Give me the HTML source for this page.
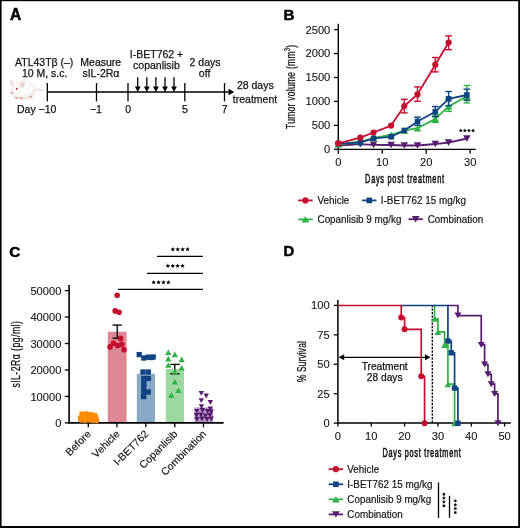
<!DOCTYPE html>
<html><head><meta charset="utf-8"><style>
html,body{margin:0;padding:0;background:#fff;width:520px;height:528px;overflow:hidden}
svg{display:block;will-change:transform}
</style></head><body>
<svg width="520" height="528" viewBox="0 0 520 528" font-family='"Liberation Sans", sans-serif'>
<rect width="520" height="528" fill="#fff"/>
<text x="9.9" y="19.5" font-size="15.6" text-anchor="start" font-weight="bold" fill="#000" stroke="#000" stroke-width="0.5">A</text>
<text x="283.6" y="19.6" font-size="15.2" text-anchor="start" font-weight="bold" fill="#000" stroke="#000" stroke-width="0.5">B</text>
<text x="9.3" y="256.7" font-size="15.4" text-anchor="start" font-weight="bold" fill="#000" stroke="#000" stroke-width="0.5">C</text>
<text x="283.6" y="256.1" font-size="14.8" text-anchor="start" font-weight="bold" fill="#000" stroke="#000" stroke-width="0.5">D</text>
<g>
<defs><radialGradient id="mb" cx="0.45" cy="0.35" r="0.7"><stop offset="0" stop-color="#ffffff"/><stop offset="0.7" stop-color="#f8f6f2"/><stop offset="1" stop-color="#e6e3dc"/></radialGradient></defs>
<ellipse cx="25" cy="98.6" rx="10" ry="1.2" fill="#edf0ea"/>
<path d="M33.5 91.2 Q38.5 89.3 44 90" stroke="#f0c2c8" stroke-width="1.1" fill="none" stroke-linecap="round"/>
<path d="M10.6 93 C10.8 90 12.5 87 14.5 85.5 C16 83.6 18.5 82.8 21 82.6 C25 81.4 30 82.2 33 86 C35.4 89 35.2 94 32.2 96.4 C27.5 98.6 19.5 98.8 15.5 97.5 C13 96.6 11.2 95 10.6 93 Z" fill="url(#mb)" stroke="#e2ddd6" stroke-width="0.5"/>
<ellipse cx="11.8" cy="83.3" rx="1.7" ry="3.1" fill="#f7e6e6" stroke="#ecd6d6" stroke-width="0.4" transform="rotate(-12 11.8 83.3)"/>
<ellipse cx="22.2" cy="84.4" rx="2.6" ry="3.5" fill="#f9eeee" stroke="#e8d0d0" stroke-width="0.4" transform="rotate(12 22.2 84.4)"/>
<ellipse cx="22.4" cy="84.9" rx="1.5" ry="2.4" fill="#f0c6c8" transform="rotate(12 22.4 84.9)"/>
<circle cx="16.8" cy="88.8" r="0.95" fill="#b8283a"/>
<circle cx="11.9" cy="92.7" r="1.3" fill="#f0a6b0"/>
<ellipse cx="16.4" cy="98" rx="1.5" ry="1" fill="#e4a08a"/>
<ellipse cx="21.2" cy="98.3" rx="1.5" ry="1" fill="#e4a08a"/>
<ellipse cx="30.8" cy="96.7" rx="1.5" ry="1" fill="#e4a08a"/>
</g>
<text x="44.2" y="65.8" font-size="10.5" text-anchor="middle" font-weight="normal" fill="#161415"  stroke="#161415" stroke-width="0.25">ATL43Tβ (–)</text>
<text x="44.7" y="77" font-size="10.5" text-anchor="middle" font-weight="normal" fill="#161415"  stroke="#161415" stroke-width="0.25">10 M, s.c.</text>
<text x="100.8" y="65.6" font-size="10.5" text-anchor="middle" font-weight="normal" fill="#161415"  stroke="#161415" stroke-width="0.25">Measure</text>
<text x="100.9" y="77.1" font-size="10.5" text-anchor="middle" font-weight="normal" fill="#161415"  stroke="#161415" stroke-width="0.25">sIL-2Rα</text>
<text x="156.5" y="58.3" font-size="10.5" text-anchor="middle" font-weight="normal" fill="#161415"  stroke="#161415" stroke-width="0.25">I-BET762 +</text>
<text x="156.4" y="68.8" font-size="10.5" text-anchor="middle" font-weight="normal" fill="#161415"  stroke="#161415" stroke-width="0.25">copanlisib</text>
<text x="205" y="65.6" font-size="10.5" text-anchor="middle" font-weight="normal" fill="#161415"  stroke="#161415" stroke-width="0.25">2 days</text>
<text x="204.6" y="76.5" font-size="10.5" text-anchor="middle" font-weight="normal" fill="#161415"  stroke="#161415" stroke-width="0.25">off</text>
<text x="255.3" y="88.5" font-size="10.5" text-anchor="middle" font-weight="normal" fill="#161415"  stroke="#161415" stroke-width="0.25">28 days</text>
<text x="255.0" y="102.7" font-size="10.5" text-anchor="middle" font-weight="normal" fill="#161415"  stroke="#161415" stroke-width="0.25">treatment</text>
<text x="17" y="113" font-size="10.5" text-anchor="start" font-weight="normal" fill="#161415"  stroke="#161415" stroke-width="0.25">Day &#8722;10</text>
<text x="95.9" y="113" font-size="10.5" text-anchor="middle" font-weight="normal" fill="#161415"  stroke="#161415" stroke-width="0.25">&#8722;1</text>
<text x="128.1" y="113" font-size="10.5" text-anchor="middle" font-weight="normal" fill="#161415"  stroke="#161415" stroke-width="0.25">0</text>
<text x="185.0" y="113" font-size="10.5" text-anchor="middle" font-weight="normal" fill="#161415"  stroke="#161415" stroke-width="0.25">5</text>
<text x="224.7" y="113" font-size="10.5" text-anchor="middle" font-weight="normal" fill="#161415"  stroke="#161415" stroke-width="0.25">7</text>
<line x1="47.3" y1="92" x2="229" y2="92" stroke="#000" stroke-width="1.3" />
<polygon points="228.5,88.8 234.3,92 228.5,95.2" fill="#000"/>
<line x1="47.3" y1="83" x2="47.3" y2="101.3" stroke="#000" stroke-width="1.3" />
<line x1="96.5" y1="83" x2="96.5" y2="101.3" stroke="#000" stroke-width="1.3" />
<line x1="128" y1="83" x2="128" y2="101.3" stroke="#000" stroke-width="1.3" />
<line x1="184.8" y1="83" x2="184.8" y2="101.3" stroke="#000" stroke-width="1.3" />
<line x1="224.5" y1="83" x2="224.5" y2="101.3" stroke="#000" stroke-width="1.3" />
<line x1="137.7" y1="77.2" x2="137.7" y2="87.5" stroke="#000" stroke-width="1.3" />
<polygon points="134.79999999999998,86.5 140.6,86.5 137.7,92" fill="#000"/>
<line x1="146.8" y1="77.2" x2="146.8" y2="87.5" stroke="#000" stroke-width="1.3" />
<polygon points="143.9,86.5 149.70000000000002,86.5 146.8,92" fill="#000"/>
<line x1="155.9" y1="77.2" x2="155.9" y2="87.5" stroke="#000" stroke-width="1.3" />
<polygon points="153.0,86.5 158.8,86.5 155.9,92" fill="#000"/>
<line x1="165" y1="77.2" x2="165" y2="87.5" stroke="#000" stroke-width="1.3" />
<polygon points="162.1,86.5 167.9,86.5 165,92" fill="#000"/>
<line x1="174" y1="77.2" x2="174" y2="87.5" stroke="#000" stroke-width="1.3" />
<polygon points="171.1,86.5 176.9,86.5 174,92" fill="#000"/>
<line x1="338.3" y1="23.8" x2="338.3" y2="150.04999999999998" stroke="#000" stroke-width="1.4" />
<line x1="337.6" y1="149.35" x2="475.8" y2="149.35" stroke="#000" stroke-width="1.4" />
<line x1="334.1" y1="149.35" x2="338.3" y2="149.35" stroke="#000" stroke-width="1.3" />
<text x="330.3" y="153.25" font-size="10.3" text-anchor="end" fill="#161415" stroke="#161415" stroke-width="0.1" textLength="6.20" lengthAdjust="spacingAndGlyphs">0</text>
<line x1="334.1" y1="125.39999999999999" x2="338.3" y2="125.39999999999999" stroke="#000" stroke-width="1.3" />
<text x="330.3" y="129.29999999999998" font-size="10.3" text-anchor="end" fill="#161415" stroke="#161415" stroke-width="0.1" textLength="18.60" lengthAdjust="spacingAndGlyphs">500</text>
<line x1="334.1" y1="101.44999999999999" x2="338.3" y2="101.44999999999999" stroke="#000" stroke-width="1.3" />
<text x="330.3" y="105.35" font-size="10.3" text-anchor="end" fill="#161415" stroke="#161415" stroke-width="0.1" textLength="24.80" lengthAdjust="spacingAndGlyphs">1000</text>
<line x1="334.1" y1="77.5" x2="338.3" y2="77.5" stroke="#000" stroke-width="1.3" />
<text x="330.3" y="81.4" font-size="10.3" text-anchor="end" fill="#161415" stroke="#161415" stroke-width="0.1" textLength="24.80" lengthAdjust="spacingAndGlyphs">1500</text>
<line x1="334.1" y1="53.55" x2="338.3" y2="53.55" stroke="#000" stroke-width="1.3" />
<text x="330.3" y="57.449999999999996" font-size="10.3" text-anchor="end" fill="#161415" stroke="#161415" stroke-width="0.1" textLength="24.80" lengthAdjust="spacingAndGlyphs">2000</text>
<line x1="334.1" y1="29.599999999999994" x2="338.3" y2="29.599999999999994" stroke="#000" stroke-width="1.3" />
<text x="330.3" y="33.49999999999999" font-size="10.3" text-anchor="end" fill="#161415" stroke="#161415" stroke-width="0.1" textLength="24.80" lengthAdjust="spacingAndGlyphs">2500</text>
<line x1="338.3" y1="149.35" x2="338.3" y2="153.7" stroke="#000" stroke-width="1.3" />
<text x="338.3" y="165.6" font-size="10.3" text-anchor="middle" fill="#161415" stroke="#161415" stroke-width="0.1" textLength="6.20" lengthAdjust="spacingAndGlyphs">0</text>
<line x1="382.25" y1="149.35" x2="382.25" y2="153.7" stroke="#000" stroke-width="1.3" />
<text x="382.25" y="165.6" font-size="10.3" text-anchor="middle" fill="#161415" stroke="#161415" stroke-width="0.1" textLength="12.40" lengthAdjust="spacingAndGlyphs">10</text>
<line x1="426.2" y1="149.35" x2="426.2" y2="153.7" stroke="#000" stroke-width="1.3" />
<text x="426.2" y="165.6" font-size="10.3" text-anchor="middle" fill="#161415" stroke="#161415" stroke-width="0.1" textLength="12.40" lengthAdjust="spacingAndGlyphs">20</text>
<line x1="470.15" y1="149.35" x2="470.15" y2="153.7" stroke="#000" stroke-width="1.3" />
<text x="470.15" y="165.6" font-size="10.3" text-anchor="middle" fill="#161415" stroke="#161415" stroke-width="0.1" textLength="12.40" lengthAdjust="spacingAndGlyphs">30</text>
<text transform="translate(365.1,183.2) scale(0.58,1)" font-size="12.6" letter-spacing="1.306" fill="#161415" stroke="#161415" stroke-width="0.6">Days post treatment</text>
<text transform="translate(294.9,129) rotate(-90) scale(0.68,1)" font-size="12.6" letter-spacing="0.363" fill="#161415" stroke="#161415" stroke-width="0.25">Tumor volume (mm<tspan font-size="8.5" dy="-4.5">3</tspan><tspan dy="4.5">)</tspan></text>
<polyline points="338.3,145.5 360.3,144.2 373.5,144.9 391.1,145 404.3,145.5 417.5,145.5 435.3,144 448.6,142.6 466.9,138.5" fill="none" stroke="#561c6e" stroke-width="1.8" stroke-linejoin="round"/>
<polygon points="334.50,142.20 342.10,142.20 338.30,148.80" fill="#561c6e"/>
<polygon points="356.50,140.90 364.10,140.90 360.30,147.50" fill="#561c6e"/>
<polygon points="369.70,141.60 377.30,141.60 373.50,148.20" fill="#561c6e"/>
<polygon points="387.30,141.70 394.90,141.70 391.10,148.30" fill="#561c6e"/>
<polygon points="400.50,142.20 408.10,142.20 404.30,148.80" fill="#561c6e"/>
<polygon points="413.70,142.20 421.30,142.20 417.50,148.80" fill="#561c6e"/>
<polygon points="431.50,140.70 439.10,140.70 435.30,147.30" fill="#561c6e"/>
<polygon points="444.80,139.30 452.40,139.30 448.60,145.90" fill="#561c6e"/>
<polygon points="463.10,135.20 470.70,135.20 466.90,141.80" fill="#561c6e"/>
<polyline points="338.3,144.5 360.3,141.5 373.5,138.0 391.1,134.8 404.3,130.5 417.5,128.2 435.3,118.9 448.6,106.5 466.9,96.4" fill="none" stroke="#30b246" stroke-width="1.8" stroke-linejoin="round"/>
<line x1="435.3" y1="115" x2="435.3" y2="122.5" stroke="#30b246" stroke-width="1.4" />
<line x1="431.90000000000003" y1="115" x2="438.7" y2="115" stroke="#30b246" stroke-width="1.4" />
<line x1="431.90000000000003" y1="122.5" x2="438.7" y2="122.5" stroke="#30b246" stroke-width="1.4" />
<line x1="448.6" y1="99.3" x2="448.6" y2="111.4" stroke="#30b246" stroke-width="1.4" />
<line x1="445.20000000000005" y1="99.3" x2="452.0" y2="99.3" stroke="#30b246" stroke-width="1.4" />
<line x1="445.20000000000005" y1="111.4" x2="452.0" y2="111.4" stroke="#30b246" stroke-width="1.4" />
<line x1="466.9" y1="85.5" x2="466.9" y2="102.9" stroke="#30b246" stroke-width="1.4" />
<line x1="463.5" y1="85.5" x2="470.29999999999995" y2="85.5" stroke="#30b246" stroke-width="1.4" />
<line x1="463.5" y1="102.9" x2="470.29999999999995" y2="102.9" stroke="#30b246" stroke-width="1.4" />
<polygon points="334.50,147.80 342.10,147.80 338.30,141.20" fill="#30b246"/>
<polygon points="356.50,144.80 364.10,144.80 360.30,138.20" fill="#30b246"/>
<polygon points="369.70,141.30 377.30,141.30 373.50,134.70" fill="#30b246"/>
<polygon points="387.30,138.10 394.90,138.10 391.10,131.50" fill="#30b246"/>
<polygon points="400.50,133.80 408.10,133.80 404.30,127.20" fill="#30b246"/>
<polygon points="413.70,131.50 421.30,131.50 417.50,124.90" fill="#30b246"/>
<polygon points="431.50,122.20 439.10,122.20 435.30,115.60" fill="#30b246"/>
<polygon points="444.80,109.80 452.40,109.80 448.60,103.20" fill="#30b246"/>
<polygon points="463.10,99.70 470.70,99.70 466.90,93.10" fill="#30b246"/>
<polyline points="338.3,143.6 360.3,142.6 373.5,138.3 391.1,136.8 404.3,130.5 417.5,121.5 435.3,111.7 448.6,98.8 466.9,95" fill="none" stroke="#0f4482" stroke-width="1.8" stroke-linejoin="round"/>
<line x1="417.5" y1="117.2" x2="417.5" y2="125.3" stroke="#0f4482" stroke-width="1.4" />
<line x1="414.1" y1="117.2" x2="420.9" y2="117.2" stroke="#0f4482" stroke-width="1.4" />
<line x1="414.1" y1="125.3" x2="420.9" y2="125.3" stroke="#0f4482" stroke-width="1.4" />
<line x1="435.3" y1="106.5" x2="435.3" y2="116.6" stroke="#0f4482" stroke-width="1.4" />
<line x1="431.90000000000003" y1="106.5" x2="438.7" y2="106.5" stroke="#0f4482" stroke-width="1.4" />
<line x1="431.90000000000003" y1="116.6" x2="438.7" y2="116.6" stroke="#0f4482" stroke-width="1.4" />
<line x1="448.6" y1="91.5" x2="448.6" y2="105.7" stroke="#0f4482" stroke-width="1.4" />
<line x1="445.20000000000005" y1="91.5" x2="452.0" y2="91.5" stroke="#0f4482" stroke-width="1.4" />
<line x1="445.20000000000005" y1="105.7" x2="452.0" y2="105.7" stroke="#0f4482" stroke-width="1.4" />
<line x1="466.9" y1="89.2" x2="466.9" y2="100.4" stroke="#0f4482" stroke-width="1.4" />
<line x1="463.5" y1="89.2" x2="470.29999999999995" y2="89.2" stroke="#0f4482" stroke-width="1.4" />
<line x1="463.5" y1="100.4" x2="470.29999999999995" y2="100.4" stroke="#0f4482" stroke-width="1.4" />
<rect x="335.5" y="140.79999999999998" width="5.6" height="5.6" fill="#0f4482"/>
<rect x="357.5" y="139.79999999999998" width="5.6" height="5.6" fill="#0f4482"/>
<rect x="370.7" y="135.5" width="5.6" height="5.6" fill="#0f4482"/>
<rect x="388.3" y="134.0" width="5.6" height="5.6" fill="#0f4482"/>
<rect x="401.5" y="127.7" width="5.6" height="5.6" fill="#0f4482"/>
<rect x="414.7" y="118.7" width="5.6" height="5.6" fill="#0f4482"/>
<rect x="432.5" y="108.9" width="5.6" height="5.6" fill="#0f4482"/>
<rect x="445.8" y="96.0" width="5.6" height="5.6" fill="#0f4482"/>
<rect x="464.09999999999997" y="92.2" width="5.6" height="5.6" fill="#0f4482"/>
<polyline points="338.3,143.4 360.3,137.7 373.5,132.5 391.1,125.6 404.3,106 417.5,94.4 435.3,64.7 448.6,42.5" fill="none" stroke="#c70d2f" stroke-width="1.8" stroke-linejoin="round"/>
<line x1="404.3" y1="99.3" x2="404.3" y2="112.9" stroke="#c70d2f" stroke-width="1.4" />
<line x1="400.90000000000003" y1="99.3" x2="407.7" y2="99.3" stroke="#c70d2f" stroke-width="1.4" />
<line x1="400.90000000000003" y1="112.9" x2="407.7" y2="112.9" stroke="#c70d2f" stroke-width="1.4" />
<line x1="417.5" y1="86.9" x2="417.5" y2="101.3" stroke="#c70d2f" stroke-width="1.4" />
<line x1="414.1" y1="86.9" x2="420.9" y2="86.9" stroke="#c70d2f" stroke-width="1.4" />
<line x1="414.1" y1="101.3" x2="420.9" y2="101.3" stroke="#c70d2f" stroke-width="1.4" />
<line x1="435.3" y1="57.5" x2="435.3" y2="71.9" stroke="#c70d2f" stroke-width="1.4" />
<line x1="431.90000000000003" y1="57.5" x2="438.7" y2="57.5" stroke="#c70d2f" stroke-width="1.4" />
<line x1="431.90000000000003" y1="71.9" x2="438.7" y2="71.9" stroke="#c70d2f" stroke-width="1.4" />
<line x1="448.6" y1="35.9" x2="448.6" y2="49.7" stroke="#c70d2f" stroke-width="1.4" />
<line x1="445.20000000000005" y1="35.9" x2="452.0" y2="35.9" stroke="#c70d2f" stroke-width="1.4" />
<line x1="445.20000000000005" y1="49.7" x2="452.0" y2="49.7" stroke="#c70d2f" stroke-width="1.4" />
<circle cx="338.3" cy="143.4" r="3.1" fill="#c70d2f"/>
<circle cx="360.3" cy="137.7" r="3.1" fill="#c70d2f"/>
<circle cx="373.5" cy="132.5" r="3.1" fill="#c70d2f"/>
<circle cx="391.1" cy="125.6" r="3.1" fill="#c70d2f"/>
<circle cx="404.3" cy="106" r="3.1" fill="#c70d2f"/>
<circle cx="417.5" cy="94.4" r="3.1" fill="#c70d2f"/>
<circle cx="435.3" cy="64.7" r="3.1" fill="#c70d2f"/>
<circle cx="448.6" cy="42.5" r="3.1" fill="#c70d2f"/>
<polygon points="460.75,128.50 461.31,129.84 462.75,129.95 461.65,130.89 461.98,132.30 460.75,131.54 459.52,132.30 459.85,130.89 458.75,129.95 460.19,129.84" fill="#000"/>
<polygon points="464.85,128.50 465.41,129.84 466.85,129.95 465.75,130.89 466.08,132.30 464.85,131.54 463.62,132.30 463.95,130.89 462.85,129.95 464.29,129.84" fill="#000"/>
<polygon points="468.95,128.50 469.51,129.84 470.95,129.95 469.85,130.89 470.18,132.30 468.95,131.54 467.72,132.30 468.05,130.89 466.95,129.95 468.39,129.84" fill="#000"/>
<polygon points="473.05,128.50 473.61,129.84 475.05,129.95 473.95,130.89 474.28,132.30 473.05,131.54 471.82,132.30 472.15,130.89 471.05,129.95 472.49,129.84" fill="#000"/>
<line x1="298.1" y1="200.4" x2="312.7" y2="200.4" stroke="#c70d2f" stroke-width="1.8" />
<circle cx="305.4" cy="200.4" r="3.1" fill="#c70d2f"/>
<text x="317.5" y="204.2" font-size="10.9" text-anchor="start" font-weight="normal" fill="#161415" textLength="31.84" lengthAdjust="spacingAndGlyphs" stroke="#161415" stroke-width="0.2">Vehicle</text>
<line x1="362.1" y1="200.4" x2="376.5" y2="200.4" stroke="#0f4482" stroke-width="1.8" />
<rect x="366.5" y="197.6" width="5.6" height="5.6" fill="#0f4482"/>
<text x="380.8" y="204.2" font-size="10.9" text-anchor="start" font-weight="normal" fill="#161415" textLength="85.08" lengthAdjust="spacingAndGlyphs" stroke="#161415" stroke-width="0.2">I-BET762 15 mg/kg</text>
<line x1="298.1" y1="219.4" x2="312.7" y2="219.4" stroke="#30b246" stroke-width="1.8" />
<polygon points="301.50,222.60 309.30,222.60 305.40,216.20" fill="#30b246"/>
<text x="317.5" y="222.9" font-size="10.9" text-anchor="start" font-weight="normal" fill="#161415" textLength="83.98" lengthAdjust="spacingAndGlyphs" stroke="#161415" stroke-width="0.2">Copanlisib 9 mg/kg</text>
<line x1="408.5" y1="219.2" x2="422.8" y2="219.2" stroke="#561c6e" stroke-width="1.8" />
<polygon points="411.75,216.00 419.55,216.00 415.65,222.40" fill="#561c6e"/>
<text x="427.7" y="222.9" font-size="10.9" text-anchor="start" font-weight="normal" fill="#161415" textLength="55.45" lengthAdjust="spacingAndGlyphs" stroke="#161415" stroke-width="0.2">Combination</text>
<rect x="107.8" y="331.7" width="18.8" height="91.19999999999999" fill="#e08796"/>
<rect x="136.8" y="373.8" width="18.2" height="49.099999999999966" fill="#88a8c5"/>
<rect x="165.8" y="368.9" width="18.2" height="54.0" fill="#9bd9a0"/>
<rect x="194.4" y="407.4" width="18.6" height="15.5" fill="#b59cc8"/>
<line x1="69.1" y1="284.9" x2="69.1" y2="423.59999999999997" stroke="#000" stroke-width="1.6" />
<line x1="68.39999999999999" y1="422.9" x2="223.6" y2="422.9" stroke="#000" stroke-width="1.6" />
<line x1="64.8" y1="422.9" x2="69.1" y2="422.9" stroke="#000" stroke-width="1.3" />
<text x="61.4" y="427.29999999999995" font-size="10.3" text-anchor="end" fill="#161415" stroke="#161415" stroke-width="0.1" textLength="6.20" lengthAdjust="spacingAndGlyphs">0</text>
<line x1="64.8" y1="396.44" x2="69.1" y2="396.44" stroke="#000" stroke-width="1.3" />
<text x="61.4" y="400.84" font-size="10.3" text-anchor="end" fill="#161415" stroke="#161415" stroke-width="0.1" textLength="31.00" lengthAdjust="spacingAndGlyphs">10000</text>
<line x1="64.8" y1="369.97999999999996" x2="69.1" y2="369.97999999999996" stroke="#000" stroke-width="1.3" />
<text x="61.4" y="374.37999999999994" font-size="10.3" text-anchor="end" fill="#161415" stroke="#161415" stroke-width="0.1" textLength="31.00" lengthAdjust="spacingAndGlyphs">20000</text>
<line x1="64.8" y1="343.52" x2="69.1" y2="343.52" stroke="#000" stroke-width="1.3" />
<text x="61.4" y="347.91999999999996" font-size="10.3" text-anchor="end" fill="#161415" stroke="#161415" stroke-width="0.1" textLength="31.00" lengthAdjust="spacingAndGlyphs">30000</text>
<line x1="64.8" y1="317.05999999999995" x2="69.1" y2="317.05999999999995" stroke="#000" stroke-width="1.3" />
<text x="61.4" y="321.4599999999999" font-size="10.3" text-anchor="end" fill="#161415" stroke="#161415" stroke-width="0.1" textLength="31.00" lengthAdjust="spacingAndGlyphs">40000</text>
<line x1="64.8" y1="290.59999999999997" x2="69.1" y2="290.59999999999997" stroke="#000" stroke-width="1.3" />
<text x="61.4" y="294.99999999999994" font-size="10.3" text-anchor="end" fill="#161415" stroke="#161415" stroke-width="0.1" textLength="31.00" lengthAdjust="spacingAndGlyphs">50000</text>
<line x1="88.3" y1="422.9" x2="88.3" y2="427.3" stroke="#000" stroke-width="1.3" />
<line x1="116.9" y1="422.9" x2="116.9" y2="427.3" stroke="#000" stroke-width="1.3" />
<line x1="145.8" y1="422.9" x2="145.8" y2="427.3" stroke="#000" stroke-width="1.3" />
<line x1="174.8" y1="422.9" x2="174.8" y2="427.3" stroke="#000" stroke-width="1.3" />
<line x1="203.5" y1="422.9" x2="203.5" y2="427.3" stroke="#000" stroke-width="1.3" />
<line x1="117.2" y1="325.1" x2="117.2" y2="338.2" stroke="#000" stroke-width="1.3" />
<line x1="112.5" y1="325.1" x2="121.9" y2="325.1" stroke="#000" stroke-width="1.3" />
<line x1="112.5" y1="338.2" x2="121.9" y2="338.2" stroke="#000" stroke-width="1.3" />
<line x1="174.8" y1="364.4" x2="174.8" y2="373.8" stroke="#000" stroke-width="1.3" />
<line x1="170.3" y1="364.4" x2="179.7" y2="364.4" stroke="#000" stroke-width="1.3" />
<line x1="170.3" y1="373.8" x2="179.7" y2="373.8" stroke="#000" stroke-width="1.3" />
<circle cx="82" cy="414" r="2.8" fill="#ff8c00"/>
<circle cx="86.5" cy="413.8" r="2.8" fill="#ff8c00"/>
<circle cx="91" cy="414.5" r="2.8" fill="#ff8c00"/>
<circle cx="95" cy="415.5" r="2.8" fill="#ff8c00"/>
<circle cx="80.5" cy="418" r="2.8" fill="#ff8c00"/>
<circle cx="84.5" cy="417.5" r="2.8" fill="#ff8c00"/>
<circle cx="88.5" cy="417.8" r="2.8" fill="#ff8c00"/>
<circle cx="92.5" cy="418" r="2.8" fill="#ff8c00"/>
<circle cx="96" cy="418.5" r="2.8" fill="#ff8c00"/>
<circle cx="81" cy="420" r="2.8" fill="#ff8c00"/>
<circle cx="85" cy="420.2" r="2.8" fill="#ff8c00"/>
<circle cx="89" cy="420" r="2.8" fill="#ff8c00"/>
<circle cx="93" cy="420.2" r="2.8" fill="#ff8c00"/>
<circle cx="96.5" cy="420.5" r="2.8" fill="#ff8c00"/>
<circle cx="117.2" cy="295.3" r="2.8" fill="#c70d2f"/>
<circle cx="115.2" cy="310.9" r="2.8" fill="#c70d2f"/>
<circle cx="119.1" cy="312.2" r="2.8" fill="#c70d2f"/>
<circle cx="120.6" cy="338.4" r="2.8" fill="#c70d2f"/>
<circle cx="113.5" cy="343.3" r="2.8" fill="#c70d2f"/>
<circle cx="110.1" cy="346.9" r="2.8" fill="#c70d2f"/>
<circle cx="117.7" cy="345.6" r="2.8" fill="#c70d2f"/>
<circle cx="121.7" cy="344.4" r="2.8" fill="#c70d2f"/>
<circle cx="124" cy="349.8" r="2.8" fill="#c70d2f"/>
<rect x="136.54999999999998" y="351.95000000000005" width="5.3" height="5.3" fill="#0f4482"/>
<rect x="141.15" y="355.35" width="5.3" height="5.3" fill="#0f4482"/>
<rect x="145.35" y="354.55" width="5.3" height="5.3" fill="#0f4482"/>
<rect x="148.35" y="354.85" width="5.3" height="5.3" fill="#0f4482"/>
<rect x="150.54999999999998" y="354.35" width="5.3" height="5.3" fill="#0f4482"/>
<rect x="140.35" y="369.35" width="5.3" height="5.3" fill="#0f4482"/>
<rect x="145.65" y="369.35" width="5.3" height="5.3" fill="#0f4482"/>
<rect x="141.15" y="375.85" width="5.3" height="5.3" fill="#0f4482"/>
<rect x="145.65" y="375.85" width="5.3" height="5.3" fill="#0f4482"/>
<rect x="141.15" y="380.85" width="5.3" height="5.3" fill="#0f4482"/>
<rect x="141.15" y="384.85" width="5.3" height="5.3" fill="#0f4482"/>
<rect x="141.15" y="389.35" width="5.3" height="5.3" fill="#0f4482"/>
<rect x="145.65" y="389.35" width="5.3" height="5.3" fill="#0f4482"/>
<rect x="140.95" y="393.95000000000005" width="5.3" height="5.3" fill="#0f4482"/>
<polygon points="165.10,355.10 171.50,355.10 168.30,349.50" fill="#30b246"/>
<polygon points="171.60,357.20 178.00,357.20 174.80,351.60" fill="#30b246"/>
<polygon points="165.10,361.40 171.50,361.40 168.30,355.80" fill="#30b246"/>
<polygon points="178.50,362.20 184.90,362.20 181.70,356.60" fill="#30b246"/>
<polygon points="165.10,367.80 171.50,367.80 168.30,362.20" fill="#30b246"/>
<polygon points="178.50,370.50 184.90,370.50 181.70,364.90" fill="#30b246"/>
<polygon points="171.60,374.30 178.00,374.30 174.80,368.70" fill="#30b246"/>
<polygon points="171.60,384.50 178.00,384.50 174.80,378.90" fill="#30b246"/>
<polygon points="175.30,393.00 181.70,393.00 178.50,387.40" fill="#30b246"/>
<polygon points="168.20,397.80 174.60,397.80 171.40,392.20" fill="#30b246"/>
<polygon points="198.60,391.00 204.00,391.00 201.30,395.80" fill="#561c6e"/>
<polygon points="203.50,393.60 208.90,393.60 206.20,398.40" fill="#561c6e"/>
<polygon points="198.60,398.20 204.00,398.20 201.30,403.00" fill="#561c6e"/>
<polygon points="207.60,400.10 213.00,400.10 210.30,404.90" fill="#561c6e"/>
<polygon points="198.80,404.30 204.20,404.30 201.50,409.10" fill="#561c6e"/>
<polygon points="207.60,406.40 213.00,406.40 210.30,411.20" fill="#561c6e"/>
<polygon points="194.10,408.90 199.50,408.90 196.80,413.70" fill="#561c6e"/>
<polygon points="199.80,408.10 205.20,408.10 202.50,412.90" fill="#561c6e"/>
<polygon points="204.80,409.10 210.20,409.10 207.50,413.90" fill="#561c6e"/>
<polygon points="208.50,409.60 213.90,409.60 211.20,414.40" fill="#561c6e"/>
<polygon points="193.80,413.10 199.20,413.10 196.50,417.90" fill="#561c6e"/>
<polygon points="198.30,412.60 203.70,412.60 201.00,417.40" fill="#561c6e"/>
<polygon points="202.80,413.60 208.20,413.60 205.50,418.40" fill="#561c6e"/>
<polygon points="207.30,412.90 212.70,412.90 210.00,417.70" fill="#561c6e"/>
<polygon points="194.30,416.90 199.70,416.90 197.00,421.70" fill="#561c6e"/>
<polygon points="199.30,416.60 204.70,416.60 202.00,421.40" fill="#561c6e"/>
<polygon points="204.30,417.10 209.70,417.10 207.00,421.90" fill="#561c6e"/>
<polygon points="208.60,416.60 214.00,416.60 211.30,421.40" fill="#561c6e"/>
<line x1="157" y1="256.4" x2="202.9" y2="256.4" stroke="#000" stroke-width="1.1" />
<line x1="147" y1="273.4" x2="202.9" y2="273.4" stroke="#000" stroke-width="1.1" />
<line x1="118.1" y1="289.4" x2="202.9" y2="289.4" stroke="#000" stroke-width="1.1" />
<polygon points="172.85,246.90 173.48,248.43 175.13,248.56 173.88,249.63 174.26,251.24 172.85,250.38 171.44,251.24 171.82,249.63 170.57,248.56 172.22,248.43" fill="#000"/>
<polygon points="177.75,246.90 178.38,248.43 180.03,248.56 178.78,249.63 179.16,251.24 177.75,250.38 176.34,251.24 176.72,249.63 175.47,248.56 177.12,248.43" fill="#000"/>
<polygon points="182.65,246.90 183.28,248.43 184.93,248.56 183.68,249.63 184.06,251.24 182.65,250.38 181.24,251.24 181.62,249.63 180.37,248.56 182.02,248.43" fill="#000"/>
<polygon points="187.55,246.90 188.18,248.43 189.83,248.56 188.58,249.63 188.96,251.24 187.55,250.38 186.14,251.24 186.52,249.63 185.27,248.56 186.92,248.43" fill="#000"/>
<polygon points="167.85,263.40 168.48,264.93 170.13,265.06 168.88,266.13 169.26,267.74 167.85,266.88 166.44,267.74 166.82,266.13 165.57,265.06 167.22,264.93" fill="#000"/>
<polygon points="172.75,263.40 173.38,264.93 175.03,265.06 173.78,266.13 174.16,267.74 172.75,266.88 171.34,267.74 171.72,266.13 170.47,265.06 172.12,264.93" fill="#000"/>
<polygon points="177.65,263.40 178.28,264.93 179.93,265.06 178.68,266.13 179.06,267.74 177.65,266.88 176.24,267.74 176.62,266.13 175.37,265.06 177.02,264.93" fill="#000"/>
<polygon points="182.55,263.40 183.18,264.93 184.83,265.06 183.58,266.13 183.96,267.74 182.55,266.88 181.14,267.74 181.52,266.13 180.27,265.06 181.92,264.93" fill="#000"/>
<polygon points="153.65,280.00 154.28,281.53 155.93,281.66 154.68,282.73 155.06,284.34 153.65,283.48 152.24,284.34 152.62,282.73 151.37,281.66 153.02,281.53" fill="#000"/>
<polygon points="158.55,280.00 159.18,281.53 160.83,281.66 159.58,282.73 159.96,284.34 158.55,283.48 157.14,284.34 157.52,282.73 156.27,281.66 157.92,281.53" fill="#000"/>
<polygon points="163.45,280.00 164.08,281.53 165.73,281.66 164.48,282.73 164.86,284.34 163.45,283.48 162.04,284.34 162.42,282.73 161.17,281.66 162.82,281.53" fill="#000"/>
<polygon points="168.35,280.00 168.98,281.53 170.63,281.66 169.38,282.73 169.76,284.34 168.35,283.48 166.94,284.34 167.32,282.73 166.07,281.66 167.72,281.53" fill="#000"/>
<text transform="translate(19.6,387.6) rotate(-90) scale(0.68,1)" font-size="12.8" letter-spacing="0.666" fill="#161415" stroke="#161415" stroke-width="0.3">sIL-2Rα (pg/ml)</text>
<text transform="translate(91.7,434.6) rotate(-45)" font-size="10.5" text-anchor="end" fill="#161415" stroke="#161415" stroke-width="0.15">Before</text>
<text transform="translate(120.30000000000001,434.6) rotate(-45)" font-size="10.5" text-anchor="end" fill="#161415" stroke="#161415" stroke-width="0.15">Vehicle</text>
<text transform="translate(149.20000000000002,434.6) rotate(-45)" font-size="10.5" text-anchor="end" fill="#161415" stroke="#161415" stroke-width="0.15">I-BET762</text>
<text transform="translate(178.20000000000002,434.6) rotate(-45)" font-size="10.5" text-anchor="end" fill="#161415" stroke="#161415" stroke-width="0.15">Copanlisib</text>
<text transform="translate(206.9,434.6) rotate(-45)" font-size="10.5" text-anchor="end" fill="#161415" stroke="#161415" stroke-width="0.15">Combination</text>
<line x1="337.9" y1="300" x2="337.9" y2="423.8" stroke="#000" stroke-width="1.5" />
<line x1="337.2" y1="423.1" x2="510.8" y2="423.1" stroke="#000" stroke-width="1.5" />
<line x1="333.8" y1="423.1" x2="337.9" y2="423.1" stroke="#000" stroke-width="1.3" />
<text x="329.7" y="427.0" font-size="10.3" text-anchor="end" fill="#161415" stroke="#161415" stroke-width="0.1" textLength="6.20" lengthAdjust="spacingAndGlyphs">0</text>
<line x1="333.8" y1="393.675" x2="337.9" y2="393.675" stroke="#000" stroke-width="1.3" />
<text x="329.7" y="397.575" font-size="10.3" text-anchor="end" fill="#161415" stroke="#161415" stroke-width="0.1" textLength="12.40" lengthAdjust="spacingAndGlyphs">25</text>
<line x1="333.8" y1="364.25" x2="337.9" y2="364.25" stroke="#000" stroke-width="1.3" />
<text x="329.7" y="368.15" font-size="10.3" text-anchor="end" fill="#161415" stroke="#161415" stroke-width="0.1" textLength="12.40" lengthAdjust="spacingAndGlyphs">50</text>
<line x1="333.8" y1="334.82500000000005" x2="337.9" y2="334.82500000000005" stroke="#000" stroke-width="1.3" />
<text x="329.7" y="338.725" font-size="10.3" text-anchor="end" fill="#161415" stroke="#161415" stroke-width="0.1" textLength="12.40" lengthAdjust="spacingAndGlyphs">75</text>
<line x1="333.8" y1="305.40000000000003" x2="337.9" y2="305.40000000000003" stroke="#000" stroke-width="1.3" />
<text x="329.7" y="309.3" font-size="10.3" text-anchor="end" fill="#161415" stroke="#161415" stroke-width="0.1" textLength="18.60" lengthAdjust="spacingAndGlyphs">100</text>
<line x1="337.9" y1="423.1" x2="337.9" y2="426.5" stroke="#000" stroke-width="1.3" />
<text x="337.9" y="439.5" font-size="10.3" text-anchor="middle" fill="#161415" stroke="#161415" stroke-width="0.1" textLength="6.20" lengthAdjust="spacingAndGlyphs">0</text>
<line x1="371.24" y1="423.1" x2="371.24" y2="426.5" stroke="#000" stroke-width="1.3" />
<text x="371.24" y="439.5" font-size="10.3" text-anchor="middle" fill="#161415" stroke="#161415" stroke-width="0.1" textLength="12.40" lengthAdjust="spacingAndGlyphs">10</text>
<line x1="404.58" y1="423.1" x2="404.58" y2="426.5" stroke="#000" stroke-width="1.3" />
<text x="404.58" y="439.5" font-size="10.3" text-anchor="middle" fill="#161415" stroke="#161415" stroke-width="0.1" textLength="12.40" lengthAdjust="spacingAndGlyphs">20</text>
<line x1="437.91999999999996" y1="423.1" x2="437.91999999999996" y2="426.5" stroke="#000" stroke-width="1.3" />
<text x="437.91999999999996" y="439.5" font-size="10.3" text-anchor="middle" fill="#161415" stroke="#161415" stroke-width="0.1" textLength="12.40" lengthAdjust="spacingAndGlyphs">30</text>
<line x1="471.26" y1="423.1" x2="471.26" y2="426.5" stroke="#000" stroke-width="1.3" />
<text x="471.26" y="439.5" font-size="10.3" text-anchor="middle" fill="#161415" stroke="#161415" stroke-width="0.1" textLength="12.40" lengthAdjust="spacingAndGlyphs">40</text>
<line x1="504.6" y1="423.1" x2="504.6" y2="426.5" stroke="#000" stroke-width="1.3" />
<text x="504.6" y="439.5" font-size="10.3" text-anchor="middle" fill="#161415" stroke="#161415" stroke-width="0.1" textLength="12.40" lengthAdjust="spacingAndGlyphs">50</text>
<text transform="translate(382.5,456.6) scale(0.58,1)" font-size="12.6" letter-spacing="1.239" fill="#161415" stroke="#161415" stroke-width="0.6">Days post treatment</text>
<text transform="translate(305.6,382.1) rotate(-90) scale(0.64,1)" font-size="13" letter-spacing="0.294" fill="#161415" stroke="#161415" stroke-width="0.3">% Survival</text>
<line x1="432.3" y1="305" x2="432.3" y2="423.1" stroke="#000" stroke-width="1.3" stroke-dasharray="2.3,1.2"/>
<line x1="343" y1="357.3" x2="426" y2="357.3" stroke="#000" stroke-width="1.3" />
<polygon points="338.6,357.3 344.2,354.3 344.2,360.3" fill="#000"/>
<polygon points="430.6,357.3 425,354.3 425,360.3" fill="#000"/>
<text x="384.7" y="369.6" font-size="10.2" text-anchor="middle" font-weight="normal" fill="#161415"  stroke="#161415" stroke-width="0.25">Treatment</text>
<text x="384.7" y="381.25" font-size="10.2" text-anchor="middle" font-weight="normal" fill="#161415"  stroke="#161415" stroke-width="0.25">28 days</text>
<polyline points="447.42,305.50 457.92,305.50 457.92,315.55 481.26,315.55 481.26,344.93 484.60,344.93 484.60,364.55 487.93,364.55 487.93,374.30 491.26,374.30 491.26,384.17 494.60,384.17 494.60,393.93 497.93,393.93 497.93,423.30" fill="none" stroke="#561c6e" stroke-width="1.7"/>
<polyline points="434.09,305.50 434.59,305.50 434.59,318.84 437.92,318.84 437.92,331.88 444.59,331.88 444.59,344.93 447.92,344.93 447.92,384.17 454.59,384.17 454.59,423.30" fill="none" stroke="#30b246" stroke-width="1.7"/>
<polyline points="400.75,305.50 447.92,305.50 447.92,341.05 451.26,341.05 451.26,352.80 454.59,352.80 454.59,388.05 457.92,388.05 457.92,423.30" fill="none" stroke="#0f4482" stroke-width="1.7"/>
<polyline points="337.90,305.50 401.25,305.50 401.25,317.55 404.58,317.55 404.58,329.30 421.25,329.30 421.25,376.30 424.58,376.30 424.58,423.30" fill="none" stroke="#c70d2f" stroke-width="1.7"/>
<polygon points="454.42,312.55 461.42,312.55 457.92,318.55" fill="#561c6e"/>
<polygon points="477.76,341.93 484.76,341.93 481.26,347.93" fill="#561c6e"/>
<polygon points="481.10,361.55 488.10,361.55 484.60,367.55" fill="#561c6e"/>
<polygon points="484.43,371.30 491.43,371.30 487.93,377.30" fill="#561c6e"/>
<polygon points="487.76,381.17 494.76,381.17 491.26,387.17" fill="#561c6e"/>
<polygon points="491.10,390.93 498.10,390.93 494.60,396.93" fill="#561c6e"/>
<polygon points="494.43,420.30 501.43,420.30 497.93,426.30" fill="#561c6e"/>
<polygon points="431.19,321.84 437.99,321.84 434.59,315.84" fill="#30b246"/>
<polygon points="434.52,334.88 441.32,334.88 437.92,328.88" fill="#30b246"/>
<polygon points="441.19,347.93 447.99,347.93 444.59,341.93" fill="#30b246"/>
<polygon points="444.52,387.17 451.32,387.17 447.92,381.17" fill="#30b246"/>
<polygon points="451.19,426.30 457.99,426.30 454.59,420.30" fill="#30b246"/>
<rect x="445.222" y="338.35" width="5.4" height="5.4" fill="#0f4482"/>
<rect x="448.556" y="350.1" width="5.4" height="5.4" fill="#0f4482"/>
<rect x="451.89" y="385.35" width="5.4" height="5.4" fill="#0f4482"/>
<rect x="455.224" y="420.6" width="5.4" height="5.4" fill="#0f4482"/>
<circle cx="401.246" cy="317.55" r="3.0" fill="#c70d2f"/>
<circle cx="404.58" cy="329.3" r="3.0" fill="#c70d2f"/>
<circle cx="421.25" cy="376.3" r="3.0" fill="#c70d2f"/>
<circle cx="424.58399999999995" cy="423.3" r="3.0" fill="#c70d2f"/>
<line x1="328.7" y1="469.2" x2="343.1" y2="469.2" stroke="#c70d2f" stroke-width="1.8" />
<circle cx="335.9" cy="469.2" r="3.1" fill="#c70d2f"/>
<text x="347.3" y="472.7" font-size="10.9" text-anchor="start" font-weight="normal" fill="#161415" textLength="31.84" lengthAdjust="spacingAndGlyphs" stroke="#161415" stroke-width="0.2">Vehicle</text>
<line x1="328.7" y1="484.27" x2="343.1" y2="484.27" stroke="#0f4482" stroke-width="1.8" />
<rect x="333.09999999999997" y="481.46999999999997" width="5.6" height="5.6" fill="#0f4482"/>
<text x="347.3" y="487.77" font-size="10.9" text-anchor="start" font-weight="normal" fill="#161415" textLength="85.08" lengthAdjust="spacingAndGlyphs" stroke="#161415" stroke-width="0.2">I-BET762 15 mg/kg</text>
<line x1="328.7" y1="499.34" x2="343.1" y2="499.34" stroke="#30b246" stroke-width="1.8" />
<polygon points="332.00,502.54 339.80,502.54 335.90,496.14" fill="#30b246"/>
<text x="347.3" y="502.84" font-size="10.9" text-anchor="start" font-weight="normal" fill="#161415" textLength="83.98" lengthAdjust="spacingAndGlyphs" stroke="#161415" stroke-width="0.2">Copanlisib 9 mg/kg</text>
<line x1="328.7" y1="514.41" x2="343.1" y2="514.41" stroke="#561c6e" stroke-width="1.8" />
<polygon points="332.00,511.21 339.80,511.21 335.90,517.61" fill="#561c6e"/>
<text x="347.3" y="517.91" font-size="10.9" text-anchor="start" font-weight="normal" fill="#161415" textLength="55.45" lengthAdjust="spacingAndGlyphs" stroke="#161415" stroke-width="0.2">Combination</text>
<line x1="438.5" y1="482.4" x2="438.5" y2="517.8" stroke="#000" stroke-width="1.3" />
<line x1="449.5" y1="495.8" x2="449.5" y2="517.8" stroke="#000" stroke-width="1.3" />
<polygon points="443.90,492.12 444.46,493.46 445.90,493.58 444.80,494.52 445.13,495.92 443.90,495.17 442.67,495.92 443.00,494.52 441.90,493.58 443.34,493.46" fill="#000"/>
<polygon points="443.90,495.97 444.46,497.31 445.90,497.43 444.80,498.37 445.13,499.77 443.90,499.02 442.67,499.77 443.00,498.37 441.90,497.43 443.34,497.31" fill="#000"/>
<polygon points="443.90,499.82 444.46,501.16 445.90,501.28 444.80,502.22 445.13,503.62 443.90,502.87 442.67,503.62 443.00,502.22 441.90,501.28 443.34,501.16" fill="#000"/>
<polygon points="443.90,503.67 444.46,505.01 445.90,505.13 444.80,506.07 445.13,507.47 443.90,506.72 442.67,507.47 443.00,506.07 441.90,505.13 443.34,505.01" fill="#000"/>
<polygon points="455.30,498.82 455.86,500.16 457.30,500.28 456.20,501.22 456.53,502.62 455.30,501.87 454.07,502.62 454.40,501.22 453.30,500.28 454.74,500.16" fill="#000"/>
<polygon points="455.30,502.67 455.86,504.01 457.30,504.13 456.20,505.07 456.53,506.47 455.30,505.72 454.07,506.47 454.40,505.07 453.30,504.13 454.74,504.01" fill="#000"/>
<polygon points="455.30,506.52 455.86,507.86 457.30,507.98 456.20,508.92 456.53,510.32 455.30,509.57 454.07,510.32 454.40,508.92 453.30,507.98 454.74,507.86" fill="#000"/>
<polygon points="455.30,510.38 455.86,511.71 457.30,511.83 456.20,512.77 456.53,514.17 455.30,513.42 454.07,514.17 454.40,512.77 453.30,511.83 454.74,511.71" fill="#000"/>
<rect x="0" y="0" width="520" height="1.2" fill="#000"/>
<rect x="0" y="0" width="1.6" height="528" fill="#000"/>
<rect x="518.2" y="0" width="1.8" height="528" fill="#000"/>
<rect x="0" y="526" width="520" height="2" fill="#000"/>
</svg>
</body></html>
